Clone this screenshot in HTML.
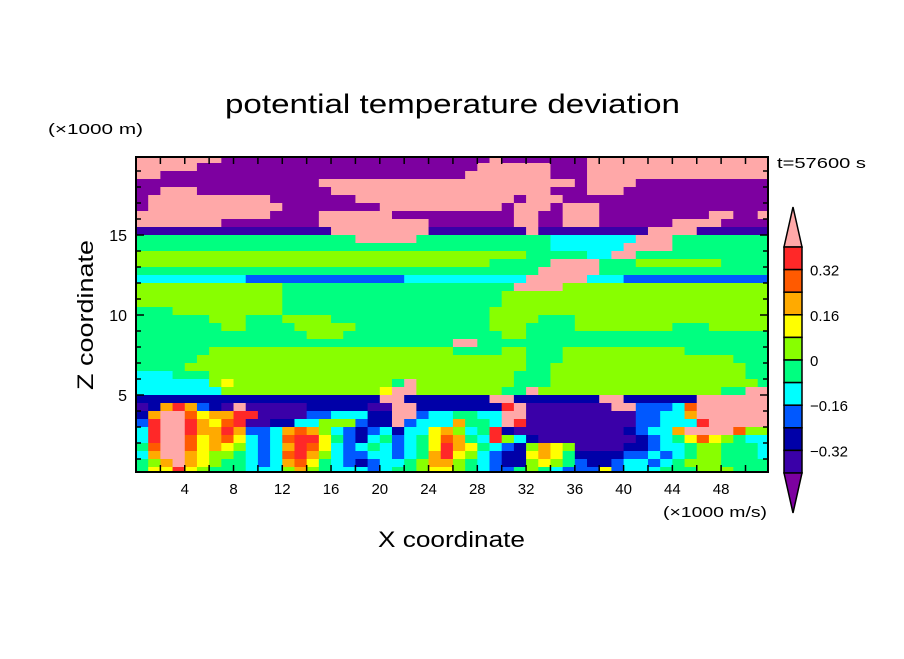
<!DOCTYPE html>
<html><head><meta charset="utf-8"><style>
html,body{margin:0;padding:0;background:#fff;}
body{width:904px;height:654px;overflow:hidden;font-family:"Liberation Sans",sans-serif;}
svg text{font-family:"Liberation Sans",sans-serif;fill:#000;}
</style></head><body>
<svg id="chart" width="904" height="654" viewBox="0 0 904 654" xmlns="http://www.w3.org/2000/svg">
<text x="225" y="113" font-size="27" textLength="455" lengthAdjust="spacingAndGlyphs">potential temperature deviation</text>
<text x="48" y="134" font-size="15" textLength="95" lengthAdjust="spacingAndGlyphs">(×1000 m)</text>
<text x="777" y="168" font-size="15" textLength="89" lengthAdjust="spacingAndGlyphs">t=57600 s</text>
<text x="663" y="517" font-size="15" textLength="104" lengthAdjust="spacingAndGlyphs">(×1000 m/s)</text>
<text x="378" y="547" font-size="22" textLength="147" lengthAdjust="spacingAndGlyphs">X coordinate</text>
<text x="93" y="390" font-size="22" textLength="150" lengthAdjust="spacingAndGlyphs" transform="rotate(-90 93 390)">Z coordinate</text>
<g id="cells"></g>
<g id="axes"></g>
<g id="cbar"></g>
</svg>
<script>
// level colors (index 0 = below lowest, 11 = above highest)
const levelColors = ["#7d00a0","#3a00a8","#0000a8","#0058ff","#00ffff","#00ff80","#88ff00","#ffff00","#ffaa00","#ff5a00","#ff2828","#ffa8a8"];
const colorbarLabels = ["0.32","0.16","0","\u22120.16","\u22120.32"];
const xTickLabels = ["4","8","12","16","20","24","28","32","36","40","44","48"];
const yTickLabels = ["5","10","15"];
// contour level index grid, run-length encoded rows from z=20 (top) down, 0.5 units per row, 1 unit per column
const fieldRows = [
"b7,022,b1,07,b15","b5,023,b6,03,b15","b2,025,b7,03,b15","015,b21,01,b4,011",
"02,b3,011,b18,03,b3,012","01,b10,07,b13,01,b3,017","01,b11,08,b10,01,b3,01,b3,014",
"b11,04,b6,010,b2,02,b3,09,b2,02,b1","b7,08,b9,07,b2,02,b3,06,b4,04","116,b8,18,b1,19,b4,16",
"518,b5,511,47,b3,58","534,46,b4,58","632,55,42,b2,511","629,55,b4,53,67,54","533,b5,514",
"49,313,410,b5,43,312","612,519,b4,617","612,518,622","612,518,622","53,69,517,623",
"56,63,53,64,513,64,53,616","57,62,54,65,511,63,54,68,53,65","514,63,513,62,520","526,b2,524",
"56,620,54,62,53,610,57","55,627,53,614,53","54,628,52,616,52","43,53,625,53,616,52",
"46,61,71,613,51,b1,68,53,617,51","47,613,71,b2,67,52,b1,615,52,b2","220,b2,27,b2,27,b2,26,b6",
"11,21,81,a1,81,31,21,11,b1,15,25,12,b2,27,a1,b1,17,b2,33,41,91,b6",
"21,81,b2,91,71,82,a2,14,32,43,22,b2,31,42,52,42,b2,19,32,42,81,b6",
"31,a1,b2,a1,81,71,91,a1,12,22,42,63,31,22,b1,31,43,81,52,41,b1,a1,19,32,43,a1,b5",
"41,a1,b2,a1,82,a1,81,32,41,81,91,81,61,41,31,21,31,41,21,42,71,81,61,41,51,a1,21,19,21,31,42,81,b4,91,61",
"41,a1,b2,91,71,81,91,71,41,31,41,91,a2,71,51,31,21,41,51,31,41,51,71,91,81,51,41,a1,61,41,21,18,21,31,41,51,71,91,71,61,51,42",
"51,91,b2,91,71,81,71,61,41,31,41,81,a1,91,71,41,31,41,51,41,31,41,51,71,a1,81,71,51,41,31,21,61,81,71,61,14,22,31,42,51,62,53,41",
"41,81,b2,81,71,62,51,41,31,41,91,a1,81,61,41,32,42,31,41,51,81,a1,71,61,41,31,22,71,81,71,51,24,32,41,31,41,51,62,53,41",
"51,61,81,b1,81,71,61,52,41,31,41,81,91,71,51,41,31,21,31,42,51,61,82,61,51,41,31,22,61,71,61,51,31,22,31,42,31,41,51,63,54",
"51,72,a1,71,61,53,43,61,81,61,51,43,31,41,52,61,72,61,51,41,32,51,61,51,41,33,71,31,43,53,63,53"
];
const NS="http://www.w3.org/2000/svg";
const X0=136,X1=768,Y0=157,Y1=472, XMAX=(X1-X0)/12.19;
const xs=v=>X0+12.19*v;
const ys=z=>475-16*z;
function mk(tag,attrs,parent){const e=document.createElementNS(NS,tag);for(const k in attrs)e.setAttribute(k,attrs[k]);parent.appendChild(e);return e;}
const cells=document.getElementById('cells');
const clip=mk('clipPath',{id:'pc'},document.getElementById('chart'));
mk('rect',{x:X0,y:Y0,width:X1-X0,height:Y1-Y0},clip);
cells.setAttribute('clip-path','url(#pc)');
fieldRows.forEach((row,i)=>{
  let s="";
  row.split(",").forEach(t=>{s+=t[0].repeat(parseInt(t.slice(1)));});
  while(s.length<52)s+=s[s.length-1];
  s=s.slice(0,52);
  const zTop=20-0.5*i, zBot=zTop-0.5;
  let j=0;
  while(j<52){
    let k=j;while(k<52&&s[k]===s[j])k++;
    const r=mk('rect',{x:xs(j),y:ys(zTop),width:xs(k)-xs(j)+0.6,height:ys(zBot)-ys(zTop)+0.6,fill:levelColors[parseInt(s[j],16)]},cells);
    
    
    j=k;
  }
});
const axes=document.getElementById('axes');
const frame=mk('rect',{x:X0,y:Y0,width:X1-X0,height:Y1-Y0,fill:"none",stroke:"#000","stroke-width":2},axes);


for(let v=2;v<XMAX;v+=2){
  const x=xs(v);
  mk('line',{x1:x,y1:Y1,x2:x,y2:Y1-7,stroke:"#000","stroke-width":1.5},axes);
  mk('line',{x1:x,y1:Y0,x2:x,y2:Y0+7,stroke:"#000","stroke-width":1.5},axes);
}
xTickLabels.forEach(l=>{
  const t=mk('text',{x:xs(+l),y:Y1+22,"font-size":15,"text-anchor":"middle"},axes);
  t.textContent=l;
  
  
});
for(let z=1;z<20;z++){
  const y=ys(z),len=z%5===0?8:5;
  mk('line',{x1:X0,y1:y,x2:X0+len,y2:y,stroke:"#000","stroke-width":1.5},axes);
  mk('line',{x1:X1,y1:y,x2:X1-len,y2:y,stroke:"#000","stroke-width":1.5},axes);
}
yTickLabels.forEach(l=>{
  const t=mk('text',{x:X0-9,y:ys(+l)+6,"font-size":16,"text-anchor":"end"},axes);
  t.textContent=l;
  
  
});
// colorbar
const cb=document.getElementById('cbar');
const bx=784,bw=18,btop=247,bh=22.6;
mk('polygon',{points:`${bx},${btop} ${bx+bw},${btop} ${bx+bw/2},207`,fill:levelColors[11],stroke:"#000","stroke-width":1.5},cb);
for(let i=0;i<10;i++){
  const r=mk('rect',{x:bx,y:btop+i*bh,width:bw,height:bh,fill:levelColors[10-i],stroke:"#000","stroke-width":1.5},cb);
  
  
}
const bbot=btop+10*bh;
mk('polygon',{points:`${bx},${bbot} ${bx+bw},${bbot} ${bx+bw/2},513`,fill:levelColors[0],stroke:"#000","stroke-width":1.5},cb);
colorbarLabels.forEach((l,i)=>{
  const t=mk('text',{x:810,y:btop+(1+2*i)*bh+6,"font-size":15},cb);
  t.textContent=l;
  
  
});
</script>
</body></html>
